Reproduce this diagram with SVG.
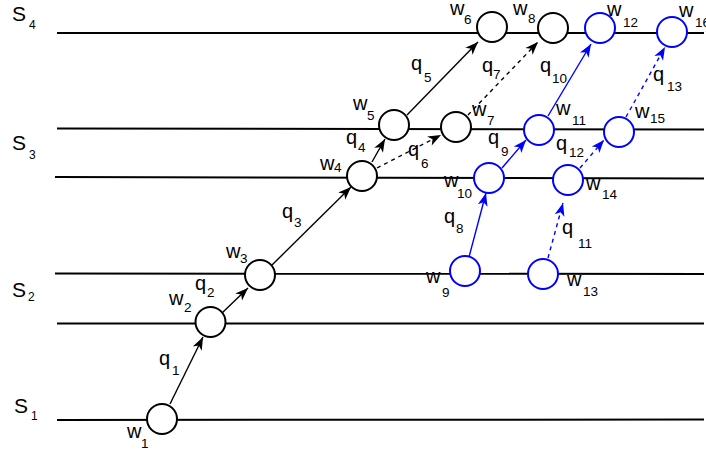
<svg xmlns="http://www.w3.org/2000/svg" width="706" height="450" viewBox="0 0 706 450">
<style>
  text { font-family: "Liberation Sans", Arial, sans-serif; fill: #000; }
  .L { font-size: 20px; }
  .sub { font-size: 13.5px; }
  .S { font-size: 21px; }
  .ssub { font-size: 12px; }
  .lane { stroke: #000; stroke-width: 2; fill: none; }
  .nk { fill: #fff; stroke: #000; stroke-width: 2; }
  .nb { fill: #fff; stroke: #0000ff; stroke-width: 2; }
  .ck { stroke: #000; stroke-width: 1.4; fill: none; marker-end: url(#ak); }
  .cb { stroke: #0000ff; stroke-width: 1.4; fill: none; marker-end: url(#ab); }
  .d { stroke-dasharray: 4 4; }
</style>
<defs>
  <marker id="ak" markerUnits="userSpaceOnUse" markerWidth="14" markerHeight="11" refX="13" refY="5" orient="auto" overflow="visible">
    <path d="M0,0 L13,5 L0,10 L3.5,5 Z" fill="#000"/>
  </marker>
  <marker id="ab" markerUnits="userSpaceOnUse" markerWidth="14" markerHeight="11" refX="13" refY="5" orient="auto" overflow="visible">
    <path d="M0,0 L13,5 L0,10 L3.5,5 Z" fill="#0000ff"/>
  </marker>
</defs>
<rect width="706" height="450" fill="#fff"/>

<g id="lanes">
  <line class="lane" x1="57" y1="33" x2="704" y2="33"/>
  <line class="lane" x1="57" y1="128.5" x2="704" y2="129.5"/>
  <line class="lane" x1="55" y1="177" x2="704" y2="178.5"/>
  <line class="lane" x1="55" y1="273.5" x2="704" y2="274"/>
  <line class="lane" x1="57" y1="323.5" x2="704" y2="323.5"/>
  <line class="lane" x1="57" y1="420" x2="704" y2="419.5"/>
</g>

<g id="lane-labels">
  <text class="S" x="12" y="21">S<tspan class="ssub" x="29" y="29">4</tspan></text>
  <text class="S" x="12" y="150">S<tspan class="ssub" x="29" y="159">3</tspan></text>
  <text class="S" x="12" y="297">S<tspan class="ssub" x="28" y="301">2</tspan></text>
  <text class="S" x="14" y="413">S<tspan class="ssub" x="31" y="420">1</tspan></text>
</g>

<g id="connectors">
  <line class="ck" x1="170" y1="404" x2="203" y2="337"/>
  <line class="ck" x1="222" y1="313" x2="248" y2="288"/>
  <line class="ck" x1="272" y1="265" x2="351" y2="187"/>
  <line class="ck" x1="372" y1="162" x2="385" y2="139"/>
  <line class="ck d" x1="377" y1="168" x2="441" y2="135"/>
  <line class="ck" x1="407" y1="115" x2="478" y2="42"/>
  <line class="ck d" x1="468" y1="115" x2="538" y2="42"/>
  <line class="cb" x1="469" y1="257" x2="486" y2="193"/>
  <line class="cb" x1="502" y1="168" x2="526" y2="140"/>
  <line class="cb" x1="548" y1="116" x2="591" y2="44"/>
  <line class="cb d" x1="548" y1="258" x2="563" y2="203"/>
  <line class="cb d" x1="580" y1="168" x2="604" y2="140"/>
  <line class="cb d" x1="626" y1="117" x2="665" y2="47"/>
</g>

<g id="connector-labels">
  <text class="L" x="159" y="365">q<tspan class="sub" x="172" y="375">1</tspan></text>
  <text class="L" x="195" y="290">q<tspan class="sub" x="207" y="297">2</tspan></text>
  <text class="L" x="282" y="218">q<tspan class="sub" x="294" y="227">3</tspan></text>
  <text class="L" x="346" y="144">q<tspan class="sub" x="358" y="152">4</tspan></text>
  <text class="L" x="411" y="70">q<tspan class="sub" x="424" y="82">5</tspan></text>
  <text class="L" x="408" y="156">q<tspan class="sub" x="421" y="168">6</tspan></text>
  <text class="L" x="482" y="72">q<tspan class="sub" x="493" y="79">7</tspan></text>
  <text class="L" x="444" y="223">q<tspan class="sub" x="456" y="233">8</tspan></text>
  <text class="L" x="488" y="144">q<tspan class="sub" x="501" y="156">9</tspan></text>
  <text class="L" x="540" y="72">q<tspan class="sub" x="552" y="83">10</tspan></text>
  <text class="L" x="562" y="234">q<tspan class="sub" x="578" y="248">11</tspan></text>
  <text class="L" x="556" y="150">q<tspan class="sub" x="569" y="157">12</tspan></text>
  <text class="L" x="653" y="81">q<tspan class="sub" x="667" y="91">13</tspan></text>
</g>

<g id="w1"><circle class="nk" cx="162" cy="419" r="15"/><text class="L" x="127" y="438">w<tspan class="sub" x="141" y="448">1</tspan></text></g>
<g id="w2"><circle class="nk" cx="210.5" cy="322" r="15"/><text class="L" x="169" y="305">w<tspan class="sub" x="184" y="312">2</tspan></text></g>
<g id="w3"><circle class="nk" cx="260" cy="275" r="15"/><text class="L" x="226" y="258">w<tspan class="sub" x="240" y="263">3</tspan></text></g>
<g id="w4"><circle class="nk" cx="362" cy="176" r="15"/><text class="L" x="320" y="170">w<tspan class="sub" x="334" y="172">4</tspan></text></g>
<g id="w5"><circle class="nk" cx="394" cy="125" r="15"/><text class="L" x="353" y="110">w<tspan class="sub" x="367" y="120">5</tspan></text></g>
<g id="w6"><circle class="nk" cx="492" cy="27" r="15"/><text class="L" x="450" y="15">w<tspan class="sub" x="464" y="24">6</tspan></text></g>
<g id="w7"><circle class="nk" cx="456" cy="127" r="15"/><text class="L" x="472" y="116">w<tspan class="sub" x="487" y="125">7</tspan></text></g>
<g id="w8"><circle class="nk" cx="553" cy="28" r="15"/><text class="L" x="513" y="15">w<tspan class="sub" x="528" y="23">8</tspan></text></g>
<g id="w9"><circle class="nb" cx="465" cy="271" r="15"/><text class="L" x="426" y="283">w<tspan class="sub" x="442" y="297">9</tspan></text></g>
<g id="w10"><circle class="nb" cx="489" cy="178" r="15"/><text class="L" x="444" y="187">w<tspan class="sub" x="457" y="198">10</tspan></text></g>
<g id="w11"><circle class="nb" cx="539" cy="130" r="15"/><text class="L" x="556" y="115">w<tspan class="sub" x="572" y="125">11</tspan></text></g>
<g id="w12"><circle class="nb" cx="600" cy="28" r="15"/><text class="L" x="607" y="16">w<tspan class="sub" x="623" y="27">12</tspan></text></g>
<g id="w13"><circle class="nb" cx="543" cy="274" r="15"/><text class="L" x="567" y="286">w<tspan class="sub" x="583" y="296">13</tspan></text></g>
<g id="w14"><circle class="nb" cx="568" cy="180" r="15"/><text class="L" x="586" y="190">w<tspan class="sub" x="602" y="199">14</tspan></text></g>
<g id="w15"><circle class="nb" cx="619" cy="132" r="15"/><text class="L" x="635" y="118">w<tspan class="sub" x="650" y="123">15</tspan></text></g>
<g id="w16"><circle class="nb" cx="672" cy="32" r="15"/><text class="L" x="679" y="17">w<tspan class="sub" x="695" y="27">16</tspan></text></g>
</svg>
